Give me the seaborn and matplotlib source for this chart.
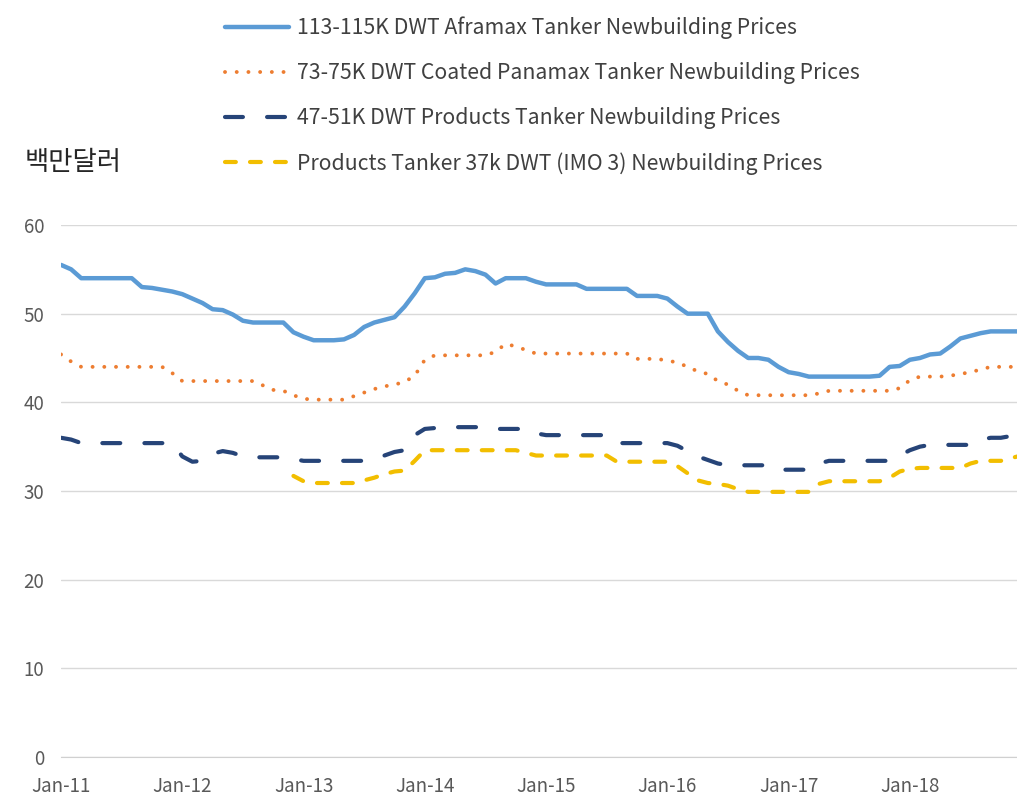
import numpy as np
import pandas as pd
import matplotlib as mpl
import matplotlib.pyplot as plt
import seaborn as sns

import warnings
warnings.filterwarnings("ignore")

# 월별 신조선가 (2011.01 ~ 2018.12), 단위: 백만달러
months = pd.date_range('2011-01-01', '2018-12-01', freq='MS')

aframax = [55.5, 55.0, 54.0, 54.0, 54.0, 54.0, 54.0, 54.0, 53.0, 52.9, 52.7, 52.5,
           52.2, 51.7, 51.2, 50.5, 50.4, 49.9, 49.2, 49.0, 49.0, 49.0, 49.0, 47.9,
           47.4, 47.0, 47.0, 47.0, 47.1, 47.6, 48.5, 49.0, 49.3, 49.6, 50.8, 52.3,
           54.0, 54.1, 54.5, 54.6, 55.0, 54.8, 54.4, 53.4, 54.0, 54.0, 54.0, 53.6,
           53.3, 53.3, 53.3, 53.3, 52.8, 52.8, 52.8, 52.8, 52.8, 52.0, 52.0, 52.0,
           51.7, 50.8, 50.0, 50.0, 50.0, 48.0, 46.8, 45.8, 45.0, 45.0, 44.8, 44.0,
           43.4, 43.2, 42.9, 42.9, 42.9, 42.9, 42.9, 42.9, 42.9, 43.0, 44.0, 44.1,
           44.8, 45.0, 45.4, 45.5, 46.3, 47.2, 47.5, 47.8, 48.0, 48.0, 48.0, 48.0]

panamax = [45.4, 44.6, 44.0, 44.0, 44.0, 44.0, 44.0, 44.0, 44.0, 44.0, 44.0, 43.3,
           42.4, 42.4, 42.4, 42.4, 42.4, 42.4, 42.4, 42.4, 41.9, 41.4, 41.3, 40.8,
           40.4, 40.3, 40.3, 40.3, 40.3, 40.7, 41.1, 41.5, 41.8, 42.0, 42.3, 43.0,
           44.8, 45.3, 45.3, 45.3, 45.3, 45.3, 45.3, 45.7, 46.6, 46.3, 45.9, 45.5,
           45.5, 45.5, 45.5, 45.5, 45.5, 45.5, 45.5, 45.5, 45.5, 44.9, 44.9, 44.9,
           44.7, 44.5, 44.0, 43.5, 43.2, 42.4, 42.0, 41.3, 40.8, 40.8, 40.8, 40.8,
           40.8, 40.8, 40.8, 41.0, 41.3, 41.3, 41.3, 41.3, 41.3, 41.3, 41.3, 41.6,
           42.5, 42.9, 42.9, 42.9, 43.0, 43.2, 43.4, 43.7, 44.0, 44.0, 44.0, 44.0]

products_51k = [36.0, 35.8, 35.4, 35.4, 35.4, 35.4, 35.4, 35.4, 35.4, 35.4, 35.4, 35.4,
                33.9, 33.3, 33.4, 34.2, 34.5, 34.3, 33.9, 33.8, 33.8, 33.8, 33.8, 33.6,
                33.4, 33.4, 33.4, 33.4, 33.4, 33.4, 33.4, 33.6, 34.0, 34.4, 34.6, 36.3,
                37.0, 37.1, 37.2, 37.2, 37.2, 37.2, 37.2, 37.0, 37.0, 37.0, 37.0, 36.5,
                36.3, 36.3, 36.3, 36.3, 36.3, 36.3, 36.3, 35.4, 35.4, 35.4, 35.4, 35.4,
                35.4, 35.1, 34.5, 33.9, 33.5, 33.1, 32.9, 32.9, 32.9, 32.9, 32.9, 32.4,
                32.4, 32.4, 32.4, 33.1, 33.4, 33.4, 33.4, 33.4, 33.4, 33.4, 33.4, 34.0,
                34.6, 35.0, 35.2, 35.2, 35.2, 35.2, 35.2, 35.8, 36.0, 36.0, 36.2, 36.5]

products_37k = [None] * 23 + [
                31.7,
                31.1, 30.9, 30.9, 30.9, 30.9, 30.9, 31.2, 31.5, 31.9, 32.2, 32.3, 33.4,
                34.6, 34.6, 34.6, 34.6, 34.6, 34.6, 34.6, 34.6, 34.6, 34.6, 34.3, 34.0,
                34.0, 34.0, 34.0, 34.0, 34.0, 34.0, 34.0, 33.3, 33.3, 33.3, 33.3, 33.3,
                33.3, 32.8, 32.0, 31.2, 30.9, 30.8, 30.6, 30.2, 29.9, 29.9, 29.9, 29.9,
                29.9, 29.9, 29.9, 30.8, 31.1, 31.1, 31.1, 31.1, 31.1, 31.1, 31.5, 32.2,
                32.5, 32.6, 32.6, 32.6, 32.6, 32.6, 33.1, 33.4, 33.4, 33.4, 33.7, 34.0]

labels = ['113-115K DWT Aframax Tanker Newbuilding Prices',
          '73-75K DWT Coated Panamax Tanker Newbuilding Prices',
          '47-51K DWT Products Tanker Newbuilding Prices',
          'Products Tanker 37k DWT (IMO 3) Newbuilding Prices']
tick_labels = ['Jan-11', 'Jan-12', 'Jan-13', 'Jan-14', 'Jan-15', 'Jan-16', 'Jan-17', 'Jan-18']

df = pd.DataFrame({'month': np.arange(len(months)),
                   'aframax': aframax,
                   'panamax': panamax,
                   'p51': products_51k,
                   'p37': np.array(products_37k, dtype=float)})

sns.set_style('white')
plt.rcParams['font.family'] = ['Noto Sans CJK KR', 'DejaVu Sans']
mpl.rcParams['axes.unicode_minus'] = False

fig = plt.figure(figsize=(10.17, 7.99), dpi=100)
ax = fig.add_axes([0.060, 0.0526, 0.940, 0.6658])

sns.lineplot(data=df, x='month', y='aframax', ax=ax, color='#5B9BD5', linewidth=3.2,
             label=labels[0])
sns.lineplot(data=df, x='month', y='panamax', ax=ax, color='#ED7D31', linewidth=2.8,
             linestyle=(0, (0.01, 3.0)), dash_capstyle='round', label=labels[1])
sns.lineplot(data=df, x='month', y='p51', ax=ax, color='#264478', linewidth=3,
             linestyle=(0, (4.3, 5.8)), dash_capstyle='round', label=labels[2])
sns.lineplot(data=df, x='month', y='p37', ax=ax, color='#F2BE00', linewidth=3,
             linestyle=(0, (2.6, 3.4)), dash_capstyle='round', label=labels[3])

# 축 꾸미기
ax.set_xlim(0, 94.6)
ax.set_ylim(0, 60)
ax.set_yticks(range(0, 61, 10))
ax.set_xticks(range(0, 96, 12))
ax.set_xticklabels(tick_labels)
ax.set_xlabel('')
ax.set_ylabel('')
ax.grid(axis='y', color='#d9d9d9', linewidth=1)
for side in ['top', 'right', 'left']:
    ax.spines[side].set_visible(False)
ax.spines['bottom'].set_color('#d0d0d0')
ax.tick_params(axis='y', length=0, pad=12, labelsize=13.5, labelcolor='#595959')
ax.tick_params(axis='x', length=4, width=1, color='#d0d0d0', pad=10, labelsize=13.5,
               labelcolor='#595959')

handles, labs = ax.get_legend_handles_labels()
ax.legend_.remove()
fig.legend(handles, labs, loc='upper left', bbox_to_anchor=(225 / 1017, 0.979), frameon=False,
           fontsize=15.3, handlelength=3.0, handletextpad=0.4, labelspacing=1.08,
           borderpad=0, borderaxespad=0, labelcolor='#404040')

fig.text(0.024, 1 - 163 / 799, '백만달러', fontsize=19, va='center', ha='left', color='#262626')

plt.savefig('out.png', dpi=100)
